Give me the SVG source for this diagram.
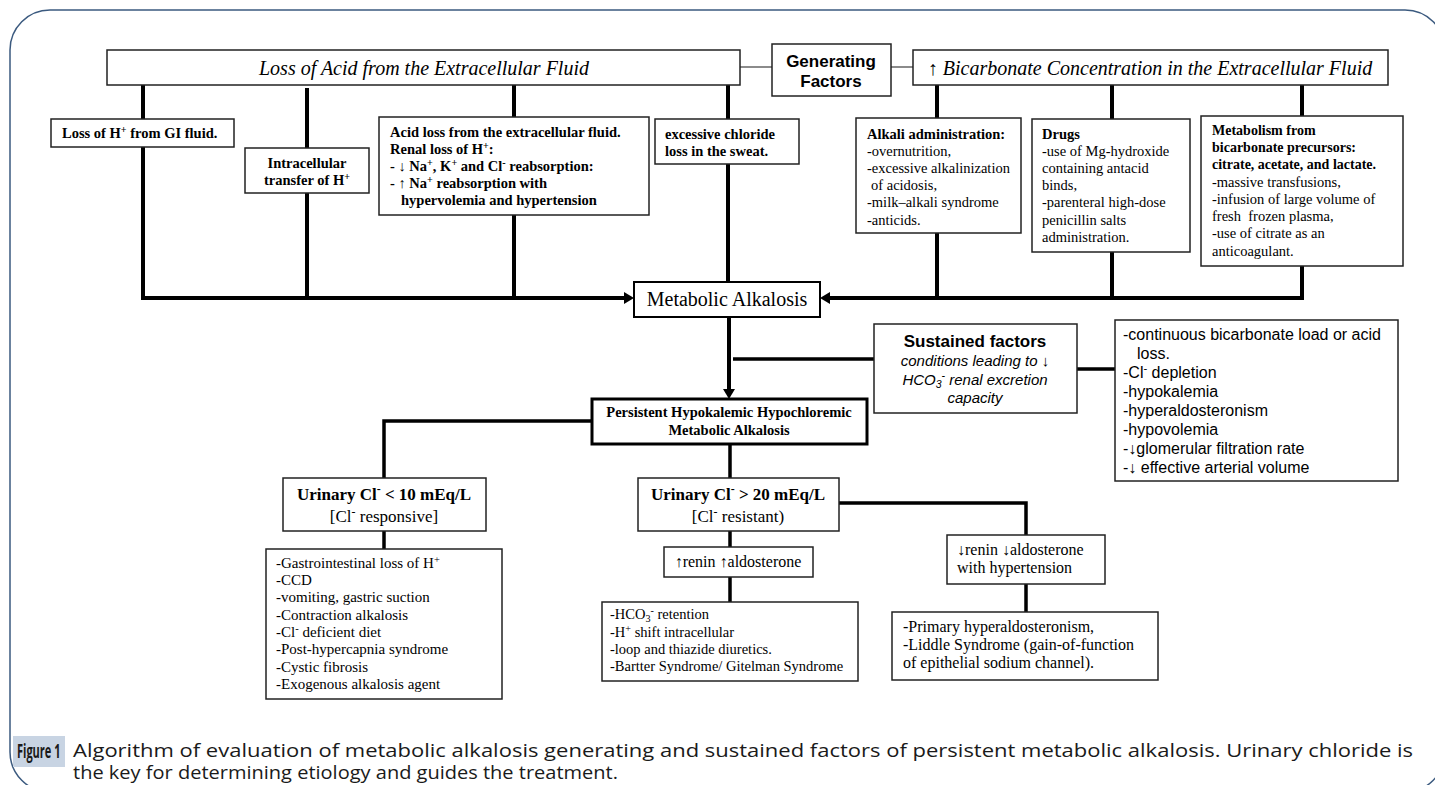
<svg xmlns="http://www.w3.org/2000/svg" width="1435" height="785" viewBox="0 0 1435 785">
<defs>
<style>
.frame{fill:#fff;stroke:#3b5a7f;stroke-width:1.5}
.box{fill:#fff;stroke:#222;stroke-width:1.5}
.box2{fill:#fff;stroke:#000;stroke-width:2}
.box3{fill:#fff;stroke:#000;stroke-width:3}
.thin{fill:none;stroke:#666;stroke-width:1.5}
.ln{fill:none;stroke:#000;stroke-width:4}
.ln2{fill:none;stroke:#000;stroke-width:3.5}
text{fill:#000}
.serif{font-family:"Liberation Serif","Times New Roman",serif}
.sans{font-family:"Liberation Sans",Arial,sans-serif}
.b{font-weight:bold}
.i{font-style:italic}
.mid{text-anchor:middle}
.sup{font-size:70%;baseline-shift:super}
.sub{font-size:70%;baseline-shift:-2.5px}
.t145{font-size:14.5px}
.t14{font-size:14px}
.t15{font-size:15px}
.t16{font-size:16px}
.t17{font-size:17px}
.t20{font-size:20px}
.cap{font-family:"Open Sans","Noto Sans","Liberation Sans",sans-serif;font-size:18px;fill:#1a1a1a}
</style>
<marker id="arr" markerUnits="userSpaceOnUse" markerWidth="10" markerHeight="12" viewBox="0 0 10 12" refX="0" refY="6" orient="auto"><path d="M0,0 L10,6 L0,12 Z" fill="#000"/></marker>
</defs>
<rect x="0" y="0" width="1435" height="785" fill="#fff"/>
<rect class="frame" x="10" y="10" width="1435" height="782" rx="40" ry="40"/>

<g id="connectors">
<path class="thin" d="M740,67 H772 M891,67 H913"/>
<path class="ln" d="M143,85 V119 M307,88 V148 M514,85 V118 M728,85 V119 M728,164 V282"/>
<path class="ln" d="M307,193 V298 M514,215 V298"/>
<path class="ln" d="M143,147 V298 H624" marker-end="url(#arr)"/>
<path class="ln" d="M937,85 V118 M1112,85 V119 M1302,85 V116"/>
<path class="ln" d="M937,233 V298 M1112,252 V298"/>
<path class="ln" d="M1302,266 V298 H830" marker-end="url(#arr)"/>
<path class="ln" d="M729,317 V389" marker-end="url(#arr)"/>
<path class="ln2" d="M733,359 H874 M1077,369 H1115"/>
<path class="ln2" d="M592,421 H384 V478 M730,444 V478 M384,531 V549 M839,503 H1026 V535 M730,531 V547 M730,577 V602 M1026,584 V612"/>
</g>

<g id="loss-acid">
<rect class="box" x="107" y="50" width="633" height="35"/>
<text class="serif i t20 mid" x="424" y="75">Loss of Acid from the Extracellular Fluid</text>
</g>
<g id="generating">
<rect class="box" x="772" y="44" width="119" height="52"/>
<text class="sans b mid t17" x="831" y="67">Generating</text>
<text class="sans b mid t17" x="831" y="87">Factors</text>
</g>
<g id="bicarb">
<rect class="box" x="913" y="50" width="475" height="35"/>
<text class="serif i t20 mid" x="1150" y="75">↑ Bicarbonate Concentration in the Extracellular Fluid</text>
</g>

<g id="gi-loss">
<rect class="box" x="51" y="119" width="183" height="28"/>
<text class="serif b t145" x="62" y="138">Loss of H<tspan class="sup">+</tspan> from GI fluid.</text>
</g>
<g id="intracellular">
<rect class="box" x="245" y="148" width="124" height="45"/>
<text class="serif b t145 mid" x="307" y="168">Intracellular</text>
<text class="serif b t145 mid" x="307" y="185">transfer of H<tspan class="sup">+</tspan></text>
</g>
<g id="acid-loss">
<rect class="box" x="379" y="117" width="270" height="98"/>
<text class="serif b t145" x="390" y="137">Acid loss from the extracellular fluid.</text>
<text class="serif b t145" x="390" y="154">Renal loss of H<tspan class="sup">+</tspan>:</text>
<text class="serif b t145" x="390" y="171">- ↓ Na<tspan class="sup">+</tspan>, K<tspan class="sup">+</tspan> and Cl<tspan class="sup">-</tspan> reabsorption:</text>
<text class="serif b t145" x="390" y="188">- ↑ Na<tspan class="sup">+</tspan> reabsorption with</text>
<text class="serif b t145" x="401" y="205">hypervolemia and hypertension</text>
</g>
<g id="chloride-sweat">
<rect class="box" x="655" y="119" width="144" height="45"/>
<text class="serif b t145" x="665" y="139">excessive chloride</text>
<text class="serif b t145" x="665" y="156">loss in the sweat.</text>
</g>
<g id="alkali">
<rect class="box" x="856" y="118" width="165" height="115"/>
<text class="serif b t145" x="867" y="139">Alkali administration:</text>
<text class="serif t145" x="867" y="156">-overnutrition,</text>
<text class="serif t145" x="867" y="173">-excessive alkalinization</text>
<text class="serif t145" x="871" y="190">of acidosis,</text>
<text class="serif t145" x="867" y="207">-milk–alkali syndrome</text>
<text class="serif t145" x="867" y="225">-anticids.</text>
</g>
<g id="drugs">
<rect class="box" x="1032" y="119" width="158" height="133"/>
<text class="serif b t145" x="1042" y="139">Drugs</text>
<text class="serif t145" x="1042" y="156">-use of Mg-hydroxide</text>
<text class="serif t145" x="1042" y="173">containing antacid</text>
<text class="serif t145" x="1042" y="190">binds,</text>
<text class="serif t145" x="1042" y="207">-parenteral high-dose</text>
<text class="serif t145" x="1042" y="225">penicillin salts</text>
<text class="serif t145" x="1042" y="242">administration.</text>
</g>
<g id="metabolism">
<rect class="box" x="1201" y="116" width="202" height="150"/>
<text class="serif b t14" x="1212" y="135">Metabolism from</text>
<text class="serif b t14" x="1212" y="152">bicarbonate precursors:</text>
<text class="serif b t14" x="1212" y="169">citrate, acetate, and lactate.</text>
<text class="serif t145" x="1212" y="187">-massive transfusions,</text>
<text class="serif t145" x="1212" y="204">-infusion of large volume of</text>
<text class="serif t145" x="1212" y="221">fresh&#160; frozen plasma,</text>
<text class="serif t145" x="1212" y="238">-use of citrate as an</text>
<text class="serif t145" x="1212" y="256">anticoagulant.</text>
</g>

<g id="metabolic-alkalosis">
<rect class="box2" x="634" y="282" width="186" height="35"/>
<text class="serif t20 mid" x="727" y="306">Metabolic Alkalosis</text>
</g>
<g id="sustained">
<rect class="box" x="874" y="324" width="203" height="89"/>
<text class="sans b mid t17" x="975" y="347">Sustained factors</text>
<text class="sans i mid t15" x="975" y="366">conditions leading to ↓</text>
<text class="sans i mid t15" x="975" y="385">HCO<tspan class="sub">3</tspan><tspan class="sup">-</tspan> renal excretion</text>
<text class="sans i mid t15" x="975" y="403">capacity</text>
</g>
<g id="sustained-list">
<rect class="box" x="1115" y="320" width="283" height="161"/>
<text class="sans t16" x="1123" y="340">-continuous bicarbonate load or acid</text>
<text class="sans t16" x="1137" y="359">loss.</text>
<text class="sans t16" x="1123" y="378">-Cl<tspan class="sup">-</tspan> depletion</text>
<text class="sans t16" x="1123" y="397">-hypokalemia</text>
<text class="sans t16" x="1123" y="416">-hyperaldosteronism</text>
<text class="sans t16" x="1123" y="435">-hypovolemia</text>
<text class="sans t16" x="1123" y="454">-↓glomerular filtration rate</text>
<text class="sans t16" x="1123" y="473">-↓ effective arterial volume</text>
</g>
<g id="persistent">
<rect class="box3" x="592" y="399" width="275" height="45"/>
<text class="serif b t145 mid" x="729" y="417">Persistent Hypokalemic Hypochloremic</text>
<text class="serif b t145 mid" x="729" y="435">Metabolic Alkalosis</text>
</g>

<g id="urinary-low">
<rect class="box" x="283" y="478" width="203" height="53"/>
<text class="serif b t17 mid" x="384" y="500">Urinary Cl<tspan class="sup">-</tspan> &lt; 10 mEq/L</text>
<text class="serif t17 mid" x="384" y="522">[Cl<tspan class="sup">-</tspan> responsive]</text>
</g>
<g id="responsive-list">
<rect class="box" x="266" y="549" width="236" height="150"/>
<text class="serif t15" x="276" y="568">-Gastrointestinal loss of H<tspan class="sup">+</tspan></text>
<text class="serif t15" x="276" y="585">-CCD</text>
<text class="serif t15" x="276" y="602">-vomiting, gastric suction</text>
<text class="serif t15" x="276" y="620">-Contraction alkalosis</text>
<text class="serif t15" x="276" y="637">-Cl<tspan class="sup">-</tspan> deficient diet</text>
<text class="serif t15" x="276" y="654">-Post-hypercapnia syndrome</text>
<text class="serif t15" x="276" y="672">-Cystic fibrosis</text>
<text class="serif t15" x="276" y="689">-Exogenous alkalosis agent</text>
</g>
<g id="urinary-high">
<rect class="box" x="638" y="478" width="201" height="53"/>
<text class="serif b t17 mid" x="738" y="500">Urinary Cl<tspan class="sup">-</tspan> &gt; 20 mEq/L</text>
<text class="serif t17 mid" x="738" y="522">[Cl<tspan class="sup">-</tspan> resistant)</text>
</g>
<g id="high-renin">
<rect class="box" x="664" y="547" width="149" height="30"/>
<text class="serif t16 mid" x="738" y="567">↑renin ↑aldosterone</text>
</g>
<g id="resistant-list">
<rect class="box" x="602" y="602" width="256" height="79"/>
<text class="serif t145" x="610" y="619">-HCO<tspan class="sub">3</tspan><tspan class="sup">-</tspan> retention</text>
<text class="serif t145" x="610" y="637">-H<tspan class="sup">+</tspan> shift intracellular</text>
<text class="serif t145" x="610" y="654">-loop and thiazide diuretics.</text>
<text class="serif t145" x="610" y="671">-Bartter Syndrome/ Gitelman Syndrome</text>
</g>
<g id="low-renin">
<rect class="box" x="947" y="535" width="158" height="49"/>
<text class="serif t16" x="957" y="555">↓renin ↓aldosterone</text>
<text class="serif t16" x="957" y="573">with hypertension</text>
</g>
<g id="hypertension-list">
<rect class="box" x="892" y="612" width="266" height="68"/>
<text class="serif t16" x="903" y="632">-Primary hyperaldosteronism,</text>
<text class="serif t16" x="903" y="650">-Liddle Syndrome (gain-of-function</text>
<text class="serif t16" x="903" y="668">of epithelial sodium channel).</text>
</g>

<g id="caption">
<rect x="13" y="736" width="52" height="31" fill="#c8d4e3"/>
<text class="cap b" style="font-size:19px" transform="translate(17,758) scale(0.58,1)" x="0" y="0">Figure 1</text>
<text class="cap" x="73" y="757" textLength="1340" lengthAdjust="spacingAndGlyphs">Algorithm of evaluation of metabolic alkalosis generating and sustained factors of persistent metabolic alkalosis. Urinary chloride is</text>
<text class="cap" x="73" y="779" textLength="545" lengthAdjust="spacingAndGlyphs">the key for determining etiology and guides the treatment.</text>
</g>
</svg>
